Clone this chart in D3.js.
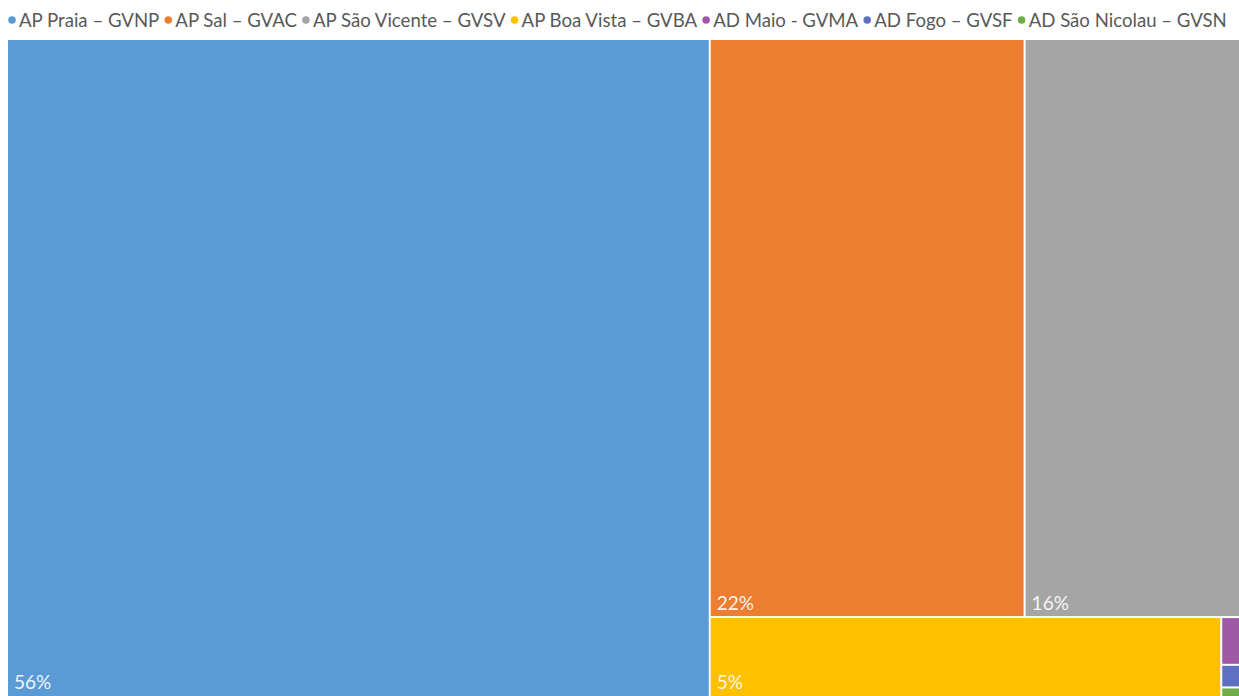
<!DOCTYPE html>
<html>
<head>
<meta charset="utf-8">
<script src="https://cdn.jsdelivr.net/npm/d3@7"></script>
<style>
  html, body { margin: 0; padding: 0; background: #fff; overflow: hidden; }
  svg { display: block; }
</style>
</head>
<body>
<svg id="chart" width="1239" height="696"></svg>
<script>
// airport names, shares (%) and colours, in legend order
const names = ["AP Praia – GVNP", "AP Sal – GVAC", "AP São Vicente – GVSV", "AP Boa Vista – GVBA",
               "AD Maio - GVMA", "AD Fogo – GVSF", "AD São Nicolau – GVSN"];
const shares = [56.4, 22.1, 16.1, 5.15, 0.19, 0.09, 0.05];
const colors = ["#5B9BD5", "#ED7D31", "#A5A5A5", "#FFC000", "#9E5AA6", "#5F70C0", "#70AD47"];

const svg = d3.select("#chart");
const fontFam = "Lato, 'Open Sans', sans-serif";

// plot area (the chart runs a bit past the window on the right & bottom)
const px0 = 8, py0 = 40, px1 = 1253, py1 = 699;

let leaf = i => ({name: names[i], value: shares[i], idx: i});
// grouping that gives the same layout as the original (columns / rows alternate)
const tree = {
	name: "root",
	children: [
		leaf(0),
		{name: "rest", children: [
			{name: "top", children: [leaf(1), leaf(2)]},
			{name: "bottom", children: [leaf(3), {name: "small", children: [leaf(4), leaf(5), leaf(6)]}]}
		]}
	]
};

const total = d3.sum(shares);
const root = d3.hierarchy(tree).sum(d => d.children ? 0 : d.value);

d3.treemap()
	.tile(d3.treemapSliceDice)
	.size([px1 - px0, py1 - py0])
	.paddingInner(2)(root);

const g = svg.append("g").attr("transform", `translate(${px0},${py0})`);
const cells = g.selectAll("g.cell")
	.data(root.leaves())
	.join("g")
	.attr("class", "cell")
	.attr("transform", d => `translate(${d.x0},${d.y0})`);

cells.append("rect")
	.attr("width", d => d.x1 - d.x0)
	.attr("height", d => d.y1 - d.y0)
	.attr("fill", d => colors[d.data.idx]);

// % labels at bottom-left, only where there is room
cells.filter(d => (d.x1 - d.x0) > 40)
	.append("text")
	.attr("x", 6)
	.attr("y", d => Math.min(d.y1 - d.y0 - 6, 696 - py0 - d.y0 - 7))
	.attr("fill", "#fff")
	.attr("fill-opacity", 0.92)
	.style("font-family", fontFam)
	.style("font-size", "19px")
	.text(d => d3.format(".0%")(d.data.value / total));

// legend
const leg = svg.append("g").attr("class", "legend");
let fs = 15;
const items = leg.selectAll("g").data(names).join("g");
items.append("circle").attr("r", 3.8).attr("fill", (d, i) => colors[i]);
const txt = items.append("text")
	.attr("x", 7)
	.attr("dy", "0.35em")
	.attr("fill", "#595959")
	.style("font-family", fontFam)
	.text(d => d);

function layoutLegend(){
	txt.style("font-size", fs + "px");
	let x = 12, gap = 9;
	items.each(function(d, i){
		const tw = d3.select(this).select("text").node().getComputedTextLength();
		d3.select(this).attr("transform", `translate(${x},20)`);
		x += 7 + tw + gap;
	});
	return x - gap;
}
let endX = layoutLegend();
// fit legend to the same span as the original (ends near x=1225)
fs = fs * (1225 - 12 - 7 * 16) / (endX - 12 - 7 * 16);
layoutLegend();
</script>
</body>
</html>
